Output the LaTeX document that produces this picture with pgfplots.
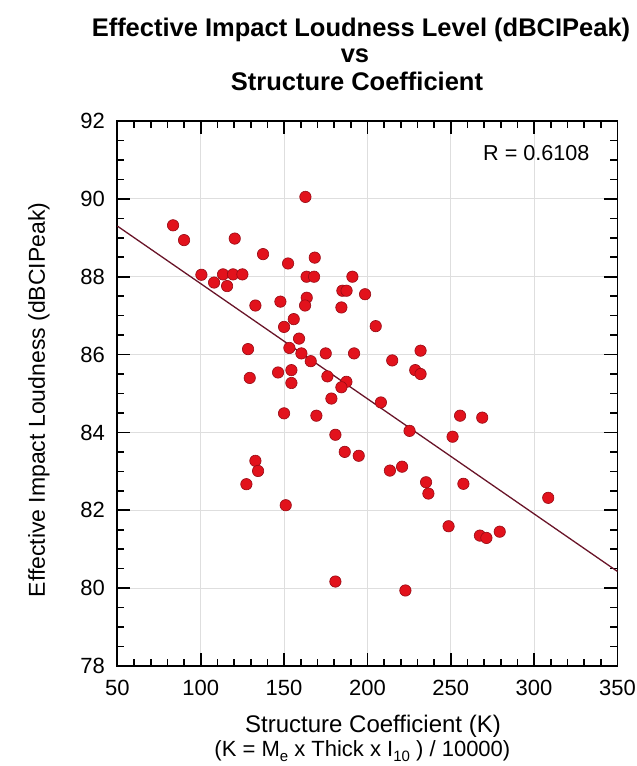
\documentclass[border=0pt]{standalone}
\usepackage{fontspec}
\setmainfont{Liberation Sans}
\usepackage{pgfplots}
\pgfplotsset{compat=1.18}
\definecolor{ptred}{RGB}{226,18,28}
\definecolor{ptedge}{RGB}{150,10,20}
\definecolor{fitline}{RGB}{105,20,40}
\definecolor{gridgray}{RGB}{222,222,222}
\begin{document}
\begin{tikzpicture}
\useasboundingbox (-117.4pt,-100pt) rectangle (519.6pt,666pt);
\begin{axis}[
  scale only axis,
  width=500pt, height=545pt,
  xmin=50, xmax=350, ymin=78, ymax=92,
  xtick={50,100,...,350}, ytick={78,80,...,92},
  minor x tick num=4, minor y tick num=3,
  tick align=inside,
  major tick length=13pt, minor tick length=7pt,
  every tick/.style={black, line width=1.6pt},
  axis line style={black, line width=1.8pt},
  grid=major,
  major grid style={gridgray, line width=0.9pt},
  /pgf/number format/assume math mode=true,
  tick label style={font=\fontsize{22}{24}\selectfont},
  xticklabel style={yshift=-11pt},
  yticklabel style={xshift=-9pt},
  clip=false,
]
\addplot[fitline, line width=1.3pt] coordinates {(50,89.30) (350,80.43)};
\addplot[only marks, mark=*, mark size=5.7pt,
  mark options={fill=ptred, draw=ptedge, line width=0.6pt}] coordinates {
(83.4,89.32) (90.0,88.94) (120.4,88.98) (137.4,88.58) (152.4,88.34)
(162.8,90.05) (168.4,88.49) (100.4,88.05) (113.4,88.06) (119.4,88.06)
(125.0,88.06) (108.0,87.85) (115.8,87.76) (163.5,88.00) (168.0,88.00)
(191.0,88.00) (185.0,87.64) (187.5,87.64) (198.6,87.55) (132.8,87.26)
(147.8,87.36) (163.6,87.46) (162.6,87.26) (184.4,87.21) (155.8,86.91)
(150.0,86.71) (159.0,86.41) (153.2,86.17) (160.4,86.03) (128.4,86.14)
(166.0,85.83) (175.0,86.03) (192.0,86.03) (129.4,85.40) (146.4,85.54)
(154.4,85.60) (154.4,85.27) (176.0,85.44) (187.4,85.30) (184.4,85.16)
(178.4,84.87)
(150.0,84.49) (169.4,84.43) (180.8,83.94) (186.4,83.50) (194.8,83.40)
(132.8,83.27) (134.4,83.01) (127.4,82.67) (151.0,82.13) (180.8,80.17)
(205.0,86.73) (231.9,86.10) (214.9,85.85) (228.7,85.60) (231.9,85.50)
(208.1,84.77) (225.3,84.04) (255.6,84.43) (268.9,84.38) (251.1,83.89)
(213.5,83.02) (220.8,83.12) (235.2,82.72) (236.6,82.43) (257.6,82.68)
(308.5,82.32) (248.7,81.59) (267.5,81.35) (271.4,81.29) (279.4,81.45)
(222.8,79.94)
};
\end{axis}
% titles and labels (pixel-based placement)
\node[font=\fontsize{25.5}{28}\selectfont\bfseries, anchor=base] at (243.6pt,629pt) {Effective Impact Loudness Level (dBCIPeak)};
\node[font=\fontsize{25.5}{28}\selectfont\bfseries, anchor=base] at (237.6pt,603pt) {vs};
\node[font=\fontsize{25.5}{28}\selectfont\bfseries, anchor=base] at (239.6pt,575pt) {Structure Coefficient};
\node[font=\fontsize{24}{26}\selectfont, anchor=base] at (255.6pt,-66pt) {Structure Coefficient (K)};
\node[font=\fontsize{22}{24}\selectfont, anchor=base] at (245pt,-90pt) {(K = M\raisebox{-0.5ex}{\fontsize{15}{15}\selectfont e} x Thick x I\raisebox{-0.5ex}{\fontsize{15}{15}\selectfont 10} ) / 10000)};
\node[font=\fontsize{23}{25}\selectfont, rotate=90, anchor=base] at (-72.4pt,266pt) {Effective Impact Loudness (dBCIPeak)};
\node[font=\fontsize{21.6}{24}\selectfont, anchor=base east] at (475.6pt,505pt) {R = 0.6108};
\end{tikzpicture}
\end{document}
